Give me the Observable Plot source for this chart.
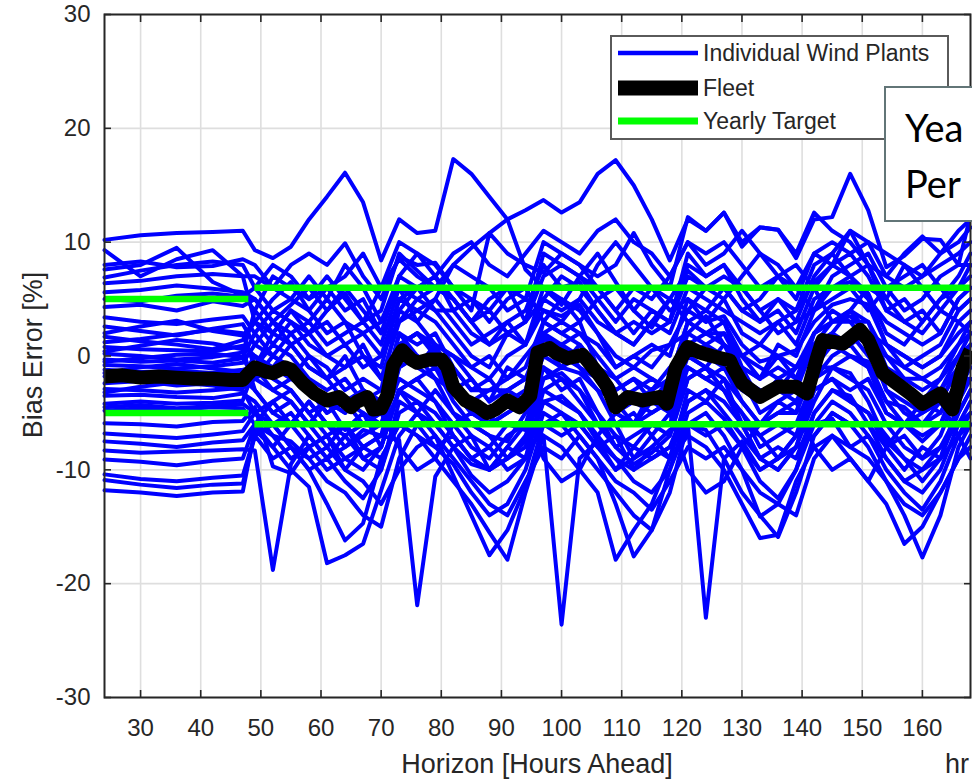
<!DOCTYPE html>
<html>
<head>
<meta charset="utf-8">
<script src="https://cdn.jsdelivr.net/npm/d3@7"></script>
<script src="https://cdn.jsdelivr.net/npm/@observablehq/plot@0.6"></script>
<style>
  html, body { margin: 0; padding: 0; background: #fff; }
  #wrap { position: relative; width: 972px; height: 781px; overflow: hidden; font-family: "Liberation Sans", Arial, sans-serif; }
  #chart { position: absolute; left: 0; top: 0; }
  .ttl { position: absolute; color: #262626; font-size: 27px; white-space: nowrap; line-height: 1; }
  #xlab { left: 537px; top: 751px; transform: translateX(-50%); }
  #ylab { left: 33px; top: 355px; transform: translate(-50%, -50%) rotate(-90deg); }
  #hr { left: 945px; top: 751px; }
  #legend { position: absolute; left: 610px; top: 35px; }
  #noteClip { position: absolute; left: 884px; top: 86px; width: 88px; height: 140px; overflow: hidden; }
  #note { position: absolute; left: 0; top: 0; width: 120px; height: 136px; box-sizing: border-box; border: 2px solid #627577; background: #fff; }
  #noteText { position: absolute; left: 21px; top: 13px; font-family: Lato, "Open Sans", sans-serif; font-size: 38px; line-height: 56px; color: #000; white-space: nowrap; }
</style>
</head>
<body>
<div id="wrap">
  <div id="chart"></div>
  <div class="ttl" id="xlab">Horizon [Hours Ahead]</div>
  <div class="ttl" id="ylab">Bias Error [%]</div>
  <div class="ttl" id="hr">hr</div>
  <div id="legend"></div>
  <div id="noteClip">
    <div id="note"></div>
    <div id="noteText">Yea<br>Per</div>
  </div>
</div>
<script>
// ---------- data ----------
const hours = [24,30,36,42,47,49,52,55,58,61,64,67,70,73,76,79,82,85,88,91,94,97,100,103,106,109,112,115,118,121,124,127,130,133,136,139,142,145,148,151,154,157,160,163,166,168];

const plant01 = [10.2,10.6,10.8,10.9,11.0, 9.3,8.6,9.6,12.0,14.0,16.1,13.5,8.4,12.0,10.8, 11.0,17.3,16.0,14.0,12.0,7.6,6.0,4.5,7.0,9.0, 6.5,4.0,2.5,5.0,7.5,6.0,5.0,2.0,1.0,3.0, 4.0,6.5,8.0,7.0,5.5,2.0,1.0,3.0,5.0,6.0, 8.0];
const plant02 = [5.6,5.8,6.2,5.9,5.6, 5.0,3.0,4.5,6.0,4.0,5.5,3.0,6.0,8.5,7.0, 6.0,8.0,9.5,10.8,12.0,12.8,13.7,12.6,13.5,16.0, 17.2,15.0,12.0,8.4,12.0,11.0,12.6,9.6,11.3,11.1, 8.6,12.0,12.2,16.0,12.8,7.8,8.8,10.3,10.2,8.0, 12.4];
const plant03 = [-8.3,-8.5,-8.4,-8.3,-8.2, -8.3,-18.8,-9.5,-7.0,-9.0,-8.0,-6.5,-7.0,-7.4,-21.9, -10.6,-8.0,-9.5,-10.0,-8.0,-6.0,-7.0,-23.6,-9.0,-7.5, -10.0,-9.0,-8.0,-6.5,-6.0,-23.0,-9.0,-7.5,-10.0,-9.0, -7.0,-6.0,-5.5,-8.0,-7.0,-9.0,-11.0,-10.0,-8.0,-6.0, -5.0];
const plant04 = [-11.8,-12.0,-12.3,-12.0,-11.9, -6.5,-8.0,-10.0,-11.5,-18.2,-17.5,-16.5,-11.8,-7.0,-5.0, -7.0,-10.5,-14.0,-17.5,-15.3,-11.5,-6.0,-5.0,-7.0,-9.0, -13.0,-17.6,-15.3,-10.0,-6.0,-6.5,-9.0,-12.0,-14.0,-15.9, -12.0,-7.0,-5.0,-6.0,-8.0,-11.0,-14.0,-17.7,-14.0,-8.0, -6.0];
const plant05 = [-10.9,-11.3,-11.6,-11.3,-11.2, -7.0,-9.0,-8.0,-10.0,-13.0,-16.2,-14.7,-9.0,-6.0,-7.0, -9.0,-11.0,-13.0,-15.5,-17.9,-12.0,-7.0,-8.0,-10.0,-12.0, -17.9,-15.3,-13.0,-9.0,-7.0,-8.0,-10.0,-13.0,-16.0,-15.7, -11.0,-8.0,-7.0,-9.0,-11.0,-13.0,-16.5,-15.0,-12.0,-9.0, -7.0];
const plant06 = [-9.1,-9.3,-9.6,-9.2,-9.0, -6.0,-7.0,-7.5,-9.0,-11.0,-12.0,-14.0,-15.0,-9.0,-6.0, -8.0,-9.5,-12.0,-14.0,-13.0,-10.0,-5.0,-6.0,-8.0,-10.0, -12.0,-14.0,-15.3,-12.0,-6.0,-5.0,-7.0,-10.0,-14.1,-13.0, -10.0,-6.0,-4.0,-5.0,-7.0,-10.0,-12.0,-13.5,-11.0,-7.0, -5.0];
const plant07 = [-6.8,-7.0,-7.2,-6.9,-6.6, -5.0,-6.0,-8.0,-10.0,-9.0,-11.0,-12.5,-10.0,-5.0,-4.0, -6.0,-8.0,-10.5,-12.0,-11.0,-9.0,-4.0,-3.5,-5.0,-7.5, -9.0,-11.0,-12.0,-10.0,-5.0,-4.0,-5.5,-8.0,-11.0,-12.5, -10.0,-5.0,-3.0,-3.5,-6.0,-9.0,-11.0,-12.0,-10.0,-6.0, -4.0];
const plant08 = [-5.9,-6.0,-6.2,-5.8,-5.7, -4.5,-9.7,-10.3,-8.0,-7.0,-9.0,-10.0,-8.0,-3.0,-2.0, -4.0,-7.0,-9.0,-10.0,-9.0,-7.5,-2.0,-1.5,-3.0,-6.0, -8.0,-9.5,-8.5,-7.0,-2.0,-1.0,-3.0,-6.0,-9.0,-10.0, -8.0,-4.0,-1.0,-1.5,-4.0,-7.5,-9.0,-10.0,-9.0,-4.0, -2.0];
const plant09 = [-10.4,-10.8,-11.0,-10.7,-10.5, -7.0,-6.0,-8.0,-9.0,-8.0,-10.0,-11.0,-13.0,-10.0,-8.0, -7.0,-9.0,-11.0,-13.0,-14.0,-11.0,-8.0,-9.0,-7.0,-9.0, -11.0,-12.0,-13.5,-11.0,-8.0,-9.0,-8.0,-10.0,-12.0,-13.0, -14.0,-9.0,-7.0,-8.0,-9.0,-11.0,-13.0,-14.0,-12.0,-9.0, -8.0];
const plant10 = [-4.5,-4.3,-4.6,-4.4,-4.2, -5.0,-7.0,-9.0,-8.0,-10.0,-9.0,-8.0,-9.0,-6.0,-7.0, -8.0,-7.0,-9.0,-8.0,-10.0,-9.0,-6.0,-7.0,-6.0,-8.0, -7.0,-10.0,-9.0,-8.0,-6.0,-7.0,-6.0,-8.0,-10.0,-9.0, -8.0,-7.0,-5.0,-6.0,-6.0,-8.0,-10.0,-8.0,-9.0,-7.0, -6.0];
const plant11 = [3.4,3.0,2.8,3.2,3.5, 2,4,3,1,0,-1,1,-2,3,4, 3,1,-1,-2,0,1,4,3.5,4.5,2, 0,-1,0.5,1,4,3,3.5,1,-0.5,0, 0.5,3,4.5,5,4.5,1,0,-1,0,3, 4];
const plant12 = [2.6,2.2,1.8,2.4,2.8, 1,0,-1,-3,-5,-4,-6,-5,1,2, 0.5,-3,-5,-6,-5,-4,1.5,1,0,-2, -5,-6,-5,-4,1,2,1,-2,-5,-4, -3,1,3,3.5,2,-3,-5,-6,-4,-1, 1];
const plant13 = [1.7,1.3,1.0,0.6,1.4, 3,5,6.5,4,2,3,0,-1,5,6, 4,2,0,-1,2,1,6,5,4,2, -1,0,1,0,5,4,3,0,-2,1, 0,4,6,7,5,1,-1,0,1,4, 5];
const plant14 = [0.8,0.6,0.5,0.4,0.9, 0,-2,-3,-5,-7,-6,-8,-7,-1,0, -2,-5,-7,-8,-6,-6.5,-1,-2,-3,-5, -8,-7,-6,-7,-2,-1,-3,-5,-7,-6, -7,-2,0,1,-1,-5,-6,-7.5,-6,-3, -1];
const plant15 = [0.2,0.0,-0.3,-0.1,0.3, 4,2,1,-1,-2,0,-3,-4,2,1, 2,-1,-3,-3,-2,-1,3,2,1,-1, -3,-2,-4,-2,3,2,2,-1,-2,-1, -2,2,4,3,3,0,-2,-3,-2,1, 3];
const plant16 = [-0.3,-0.5,-0.4,-0.6,-0.2, -2,-3,-4,-6,-4,-6.5,-5,-8,-3,-2, -1,-4,-6,-7,-7.5,-5,-2,-1,-1.5,-3, -6,-5,-7,-5,-1,-2,-1,-4,-6,-5, -5,-1,-1,0,-0.5,-4,-4.5,-6,-5,-2, -2];
const plant17 = [-0.8,-0.9,-1.1,-0.9,-0.6, 1,3,2,0,-1,-3,-2,-3,4,3, 1,0,-2,-4,-1,-2,2,3,2,0, -2,-1,-2,-3,2,3.5,1,0,-1,-2, -1,1,2,4,3,-1,-2,-2,-3,0, 2];
const plant18 = [-1.2,-1.4,-1.3,-1.5,-1.2, -1,1,0,-2,-3,-2,-4,-3,0,-1, 1,-2,-4,-3,-3,-2,0,-1,1,-1, -4,-3,-2,-3,0,1,0,-2,-3,-3, -1,0,1,2,0,-2,-3,-4,-3,-1, 0];
const plant19 = [-2.4,-2.2,-2.6,-2.4,-2.0, -3,-5,-6,-4,-6,-8,-7,-6,-2,-3, -4,-6,-8,-9,-7,-6,-1,-3,-2,-5, -7,-8,-6,-6,-1,-2,-3,-5,-8,-7, -6,-2,-1,-2,-3,-6,-8,-9,-7,-3, -2];
const plant20 = [-2.9,-3.0,-3.2,-3.0,-2.8, -2,-1,1,-1,-2,-1,0,-2,1,2, 1,0,-1,0,-2,0,2,1,2,1, -1,0,-1,1,2,1,2,0,1,0, -1,2,3,4,2,1,0,-1,0,2, 3];
const plant21 = [-3.5,-3.4,-3.6,-3.7,-3.3, -4,-6,-5,-7,-9,-7,-9,-10,-4,-5, -6,-8,-7,-10,-9,-8,-4,-5,-6,-8, -10,-8,-9,-8,-4,-3,-5,-7,-9,-8, -9,-5,-3,-4,-5,-8,-7,-9,-8,-5, -3];
const plant22 = [-4.2,-4.0,-4.2,-4.1,-3.9, -1,2,4,2,0,1,-1,0,5,4, 5,3,1,2,3,1,5,4,5,3, 2,1,3,2,6,5,4,3,2,3, 1,5,6,6.5,5,3,2,1,2,5, 6];
const plant23 = [-1.8,-2.0,-1.9,-2.1,-1.7, 0,-1,-2,-3,-5,-4,-5,-6,-1,0, -1,-3,-5,-5,-4,-4,0,1,-1,-2, -5,-4,-5,-4,1,0,-1,-3,-4,-3, -4,-1,1,2,1,-3,-4,-5,-4,-1, 1];
const plant24 = [-4.8,-4.6,-4.7,-4.5,-4.6, -6,-4,-3,-5,-4,-5,-3,-4,0,-1, -2,-3,-2,-4,-3,-2,1,-1,0,-2, -3,-2,-3,-1,0,-1,1,-1,-2,0, -2,1,2,1,2,0,-1,-2,-1,1, 2];
const plant25 = [-0.5,-0.2,0.1,0.2,-0.1, 2,0,2,3,1,2,3,1,6,5, 4,4,2,1,3,4,8,6,6.5,4, 2,3,2,3,7,6,6,4,3,4, 2,6,8,9,7,4,3,2,4,6, 7];
const plant26 = [9.3,7.0,8.5,9.3,7.0, 7,6,8,9,8,9.9,7,5,8.7,8, 8.2,6,4,10.8,9,8,7.3,9,8,7, 8,10.8,8,6,12.2,11,12.6,10,11.3,11.1, 9,12.6,11,10,8,7,9,10.5,9,10, 11.3];
const plant27 = [7.6,8.0,9.5,6.5,5.3, 4,7,6,5,7,5,3,4,9,7.5, 6,5,3,5,6,3,9,8,7,5, 3,5,4,3,9,7,8,5,3,5, 4,8,9,11,8,4,5,3,5,7, 9];
const plant28 = [6.9,7.5,8.0,8.3,8.0, 6,4,5,7,5,8,6,3,6,3, 5,8,7,6,4,5,4,3,5,8, 10,8,6,4,5,3,5,7,9,8, 6,4,5,6,4,6,7,8,6,4, 5];
const plant29 = [6.4,6.6,7.0,7.2,7.0, 3,1,3,2,4,6,4,2,4,6, 7,4,5,3,5,6,3,5,3,5, 6,4,6,5,3,4,6,4,5,7, 8,6,3,4,6,5,8,6,4,3, 2];
const plant30 = [4.3,4.5,4.0,4.8,4.4, 5,3,1,2,3,1,2,0,3,5, 6,5,3,1,2,3,5,7,6,4, 2,1,3,5,4,6,7,6,4,2, 3,4,7,8,9,6,4,5,7,8, 8];
const plant31 = [1.2,1.5,1.9,2.3,2.0, -1,-3,-2,0,-2,-4,-3,-5,2,0, -1,-2,-4,-6,-3,-4,2,0,-1,-3, -4,-6,-3,-5,0,-1,-2,-4,-6,-4, -5,0,1,0,-1,-4,-6,-4,-5,-2, 0];
const plant32 = [5.0,4.8,5.3,5.5,5.2, 6,8,7,5,6,4,5,2,7,9, 8,6,5,4,6,5,10,9,8,6, 4,6,5,7,10,9,10,8,6,7, 5,9,10,9,10,7,6,7,8,9, 10];
const plant33 = [-3.2,-2.7,-2.3,-2.6,-3.0, -5,-4,-6,-8,-7,-10,-8,-7,-3,-5, -3,-5,-6,-7,-9,-7,-3,-2,-4,-6, -6,-9,-7,-9,-3,-4,-2,-6,-7,-9, -7,-3,-2,-3,-2,-5,-6,-7,-6,-2, -1];
const plant34 = [2.0,2.6,3.1,2.2,1.8, 3,2,4,3,5,3,2,3,7,6, 7,5,3,4,2,3,7,8,7,6, 4,2,4,3,8,7,8,6,4,5, 3,7,9,7,8,5,3,4,2,5, 6];
const plant35 = [-1.5,-1.0,-0.7,-1.1,-1.4, -2,0,-1,-3,-4,-5,-3,-4,1,2, 0,-1,-3,-2,-4,-3,3,2,3,-1, -2,-4,-3,-2,3,2,3,-1,-4,-2, -3,2,3,3,1,-1,-3,-4,-2,0, 1];
const plant36 = [-7.5,-7.7,-8.0,-7.6,-7.4, -6,-8,-6,-4,-6,-7,-6,-5,-8,-10, -9,-6,-5,-6,-5,-4,-9,-11,-10,-7, -5,-6,-4,-5,-10,-12,-11,-8,-6,-5, -4,-8,-10,-9,-11,-8,-6,-5,-4,-7, -9];
const plant37 = [8.0,8.3,7.8,7.9,8.5, 8,6,5,4,6,7,9,6,10,9, 7,9,10,8,7,9,11,10,9,11, 12,10,9,7,10,8,9,11,9,7, 6,9,8,11,10,9,8,7,9,11, 12];
const plant38 = [0.4,0.9,1.4,1.1,0.6, -3,-5,-4,-6,-8,-6,-9,-8,-3,-4, -5,-7,-9,-10,-8,-9,-3,-4,-5,-7, -9,-10,-8,-9,-4,-3,-4,-6,-9,-10, -8,-3,-2,-4,-5,-7,-9,-11,-9,-5, -3];

const fleetHours = [24,27,30,33,36,39,42,45,47,48,49,51,52,54,55,57,59,61,63,65,66,67.7,68.7,70,71,72,73.5,75,76,78,80,81,82,84,86,87.6,89,91,93,94.8,96,98,99,101,103.5,106,107.6,109,111,113.5,116.4,117.5,119,121,123,125,128,128.5,130,133,136,139,140.8,142.4,143.4,146.8,149.6,151,153.4,155.7,158,160,163,165,166.7,168];
const fleetBias = [-1.8,-1.7,-1.9,-1.8,-1.9,-2.0,-2.0,-2.1,-2.1,-1.5,-1.0,-1.4,-1.5,-1.0,-1.2,-2.4,-3.3,-3.9,-3.6,-4.5,-4.0,-3.6,-4.7,-4.6,-3.5,-0.8,0.5,-0.3,-0.6,-0.3,-0.3,-1.0,-2.7,-3.9,-4.4,-5.0,-4.7,-3.9,-4.5,-3.5,0.3,0.7,0.3,-0.2,0.1,-1.5,-2.7,-4.5,-3.6,-3.9,-3.6,-4.2,-1.0,0.8,0.3,0.0,-0.4,-1.0,-2.4,-3.6,-2.7,-2.7,-3.3,-0.3,1.4,1.1,2.3,1.4,-1.5,-2.4,-3.3,-4.2,-3.3,-4.7,-1.0,0.5];

const targetStart = [24, 49];
const targetEnd = [48, 168];
const targetLimit = [5, 6];

const xTicks = [30,40,50,60,70,80,90,100,110,120,130,140,150,160];
const yTicks = [-30,-20,-10,0,10,20,30];

const legendLabels = ["Individual Wind Plants", "Fleet", "Yearly Target"];

// ---------- build tables ----------
const plants = [plant01,plant02,plant03,plant04,plant05,plant06,plant07,plant08,plant09,plant10,
                plant11,plant12,plant13,plant14,plant15,plant16,plant17,plant18,plant19,plant20,
                plant21,plant22,plant23,plant24,plant25,plant26,plant27,plant28,plant29,plant30,
                plant31,plant32,plant33,plant34,plant35,plant36,plant37,plant38];
const blueData = plants.flatMap((vals, i) => vals.map((v, j) => ({plant: i, hour: hours[j], bias: v})));
const fleetData = fleetHours.map((h, i) => ({hour: h, bias: fleetBias[i]}));
const targetData = targetStart.flatMap((s, i) => [
  {from: s, to: targetEnd[i], bias: targetLimit[i]},
  {from: s, to: targetEnd[i], bias: -targetLimit[i]}
]);

const BLUE = "#0000ff", BLACK = "#000000", GREEN = "#00ff00", AX = "#262626";
const fmt = d => String(d);

const chart = Plot.plot({
  width: 972,
  height: 781,
  marginLeft: 104,
  marginRight: 2,
  marginTop: 14,
  marginBottom: 84,
  style: {fontFamily: '"Liberation Sans", Arial, sans-serif', fontSize: "24px", color: AX, background: "#fff", overflow: "visible"},
  x: {domain: [24, 168]},
  y: {domain: [-30, 30]},
  marks: [
    Plot.gridX(xTicks, {stroke: "#dedede", strokeOpacity: 1, strokeWidth: 1.6}),
    Plot.gridY(yTicks, {stroke: "#dedede", strokeOpacity: 1, strokeWidth: 1.6}),
    Plot.line(blueData, {x: "hour", y: "bias", z: "plant", stroke: BLUE, strokeWidth: 4, strokeLinejoin: "round", strokeLinecap: "round"}),
    Plot.line(fleetData, {x: "hour", y: "bias", stroke: BLACK, strokeWidth: 14, strokeLinejoin: "round", strokeLinecap: "butt"}),
    Plot.ruleY(targetData, {y: "bias", x1: "from", x2: "to", stroke: GREEN, strokeWidth: 6.5}),
    Plot.frame({stroke: AX, strokeWidth: 2}),
    Plot.axisX({ticks: xTicks, anchor: "bottom", tickSize: -7, tickPadding: 28, tickFormat: fmt, label: null, stroke: AX, strokeWidth: 1.6}),
    Plot.axisX({ticks: xTicks, anchor: "top", tickSize: -7, tickFormat: () => "", label: null, stroke: AX, strokeWidth: 1.6}),
    Plot.axisY({ticks: yTicks, anchor: "left", tickSize: -7, tickPadding: 21, tickFormat: fmt, label: null, stroke: AX, strokeWidth: 1.6}),
    Plot.axisY({ticks: yTicks, anchor: "right", tickSize: -7, tickFormat: () => "", label: null, stroke: AX, strokeWidth: 1.6})
  ]
});
document.getElementById("chart").appendChild(chart);

// ---------- legend ----------
const lg = d3.select("#legend").append("svg").attr("width", 340).attr("height", 106);
lg.append("rect").attr("x", 1).attr("y", 1).attr("width", 337).attr("height", 103)
  .attr("fill", "#fff").attr("stroke", "#5a5a5a").attr("stroke-width", 2);
const swatch = [
  {color: BLUE, width: 4.5, cy: 18},
  {color: BLACK, width: 15, cy: 53},
  {color: GREEN, width: 7, cy: 86}
];
legendLabels.forEach((t, i) => {
  const s = swatch[i];
  lg.append("line").attr("x1", 8).attr("x2", 88).attr("y1", s.cy).attr("y2", s.cy)
    .attr("stroke", s.color).attr("stroke-width", s.width);
  lg.append("text").attr("x", 93).attr("y", s.cy + 8)
    .attr("font-family", '"Liberation Sans", Arial, sans-serif').attr("font-size", 23)
    .attr("fill", AX).text(t);
});
</script>
</body>
</html>
